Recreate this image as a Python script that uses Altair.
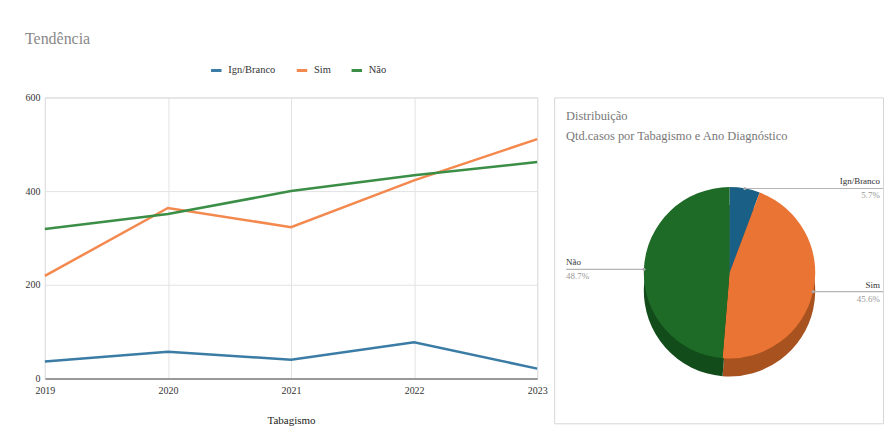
import altair as alt
import pandas as pd

# ---------------- data ----------------
years = [2019, 2020, 2021, 2022, 2023]
categories = ["Ign/Branco", "Sim", "Não"]
ign_branco = [36, 57, 40, 77, 21]
sim = [219, 364, 323, 423, 511]
nao = [319, 351, 400, 434, 462]
y_ticks = [0, 200, 400, 600]

# ---------------- styles ----------------
line_colors = ["#3a7ca5", "#f4894f", "#3b8e46"]
pie_colors = ["#1a5f85", "#e97434", "#1e6a27"]
shadow_colors = ["#12435f", "#a8521f", "#124c1a"]
FONT = "Liberation Serif"

rows = []
for i, (cat, vals) in enumerate(zip(categories, [ign_branco, sim, nao])):
    for yr, v in zip(years, vals):
        rows.append({"year": yr, "cat": cat, "idx": i, "value": v})
df = pd.DataFrame(rows)

# ---------------- left: trend lines ----------------
line = alt.Chart(df).mark_line(strokeWidth=2.5).encode(
    x=alt.X(
        "year:Q",
        scale=alt.Scale(domain=[2019, 2023], nice=False, zero=False),
        axis=alt.Axis(
            values=years, format="d", title="Tabagismo", labelFont=FONT,
            labelFontSize=10, labelColor="#333", titleFont=FONT, titleFontSize=11,
            titleFontWeight="normal", titleColor="#222", titlePadding=19,
            ticks=False, labelPadding=7, domainColor="#999", domainWidth=2,
            gridColor="#e2e2e2", labelOverlap=False, labelBound=False,
            labelFlush=False,
        ),
    ),
    y=alt.Y(
        "value:Q",
        scale=alt.Scale(domain=[0, 600], nice=False),
        axis=alt.Axis(
            values=y_ticks, title=None, labelFont=FONT, labelFontSize=10,
            labelColor="#333", ticks=False, domain=False, labelPadding=5,
            gridColor="#e2e2e2", labelFlush=False,
        ),
    ),
    color=alt.Color(
        "cat:N",
        scale=alt.Scale(domain=categories, range=line_colors),
        legend=alt.Legend(
            orient="none", legendX=165, legendY=-34, direction="horizontal",
            title=None, symbolType="stroke", symbolStrokeWidth=3, symbolSize=110,
            labelFont=FONT, labelFontSize=10.5, labelColor="#333",
            columnPadding=14, labelOffset=5,
        ),
    ),
    detail="cat:N",
).properties(
    width=494,
    height=282,
    title=alt.TitleParams(
        "Tendência", anchor="start", frame="bounds", font=FONT, fontSize=16,
        fontWeight="normal", color="#888", offset=17,
    ),
)

# ---------------- right: pie ----------------
CX, CY, R, DEPTH = 176, 176, 86, 18

base = alt.Chart(df).transform_aggregate(
    total="sum(value)", groupby=["cat", "idx"]
)

shadow = base.mark_arc(radius=R).encode(
    theta=alt.Theta("total:Q", stack=True),
    fill=alt.Fill("cat:N", scale=alt.Scale(domain=categories, range=shadow_colors), legend=None),
    order=alt.Order("idx:Q"),
    x=alt.value(CX),
    y=alt.value(CY + DEPTH),
)

top = base.mark_arc(radius=R).encode(
    theta=alt.Theta("total:Q", stack=True),
    color=alt.Color("cat:N", scale=alt.Scale(domain=categories, range=pie_colors), legend=None),
    order=alt.Order("idx:Q"),
    x=alt.value(CX),
    y=alt.value(CY),
)

lab = base.transform_joinaggregate(grand="sum(total)").transform_window(
    cum="sum(total)", sort=[alt.SortField("idx")], frame=[None, 0]
).transform_calculate(
    mid="(datum.cum - datum.total/2) / datum.grand * 2 * PI",
    px=f"{CX} + {R} * sin(datum.mid)",
    py=f"{CY} - {R} * cos(datum.mid)",
    lx="sin(datum.mid) > 0 ? 330 : 12",
    tx="sin(datum.mid) > 0 ? 327 : 12",
    right="sin(datum.mid) > 0",
    pct="format(datum.total / datum.grand * 100, '.1f') + '%'",
)

leader = lab.mark_rule(color="#b5b5b5", strokeWidth=1.2, clip=True).encode(
    x=alt.X("px:Q", scale=None),
    x2="lx:Q",
    y=alt.Y("py:Q", scale=None),
)
dots = lab.mark_circle(size=10, color="#aaaaaa", opacity=1).encode(
    x=alt.X("px:Q", scale=None),
    y=alt.Y("py:Q", scale=None),
)

def side_labels(is_right):
    al = "right" if is_right else "left"
    f = lab.transform_filter("datum.right" if is_right else "!datum.right")
    name = f.mark_text(font=FONT, fontSize=9, baseline="bottom", dy=-2, align=al,
                       color="#333").encode(
        x=alt.X("tx:Q", scale=None), y=alt.Y("py:Q", scale=None), text="cat:N")
    pct = f.mark_text(font=FONT, fontSize=9, baseline="top", dy=3, align=al,
                      color="#999").encode(
        x=alt.X("tx:Q", scale=None), y=alt.Y("py:Q", scale=None), text="pct:N")
    return [name, pct]

title_txt = alt.Chart(alt.Data(values=[{}])).mark_text(
    text="Distribuição\nQtd.casos por Tabagismo e Ano Diagnóstico",
    lineBreak="\n", align="left", baseline="top", font=FONT, fontSize=12.5,
    color="#777", lineHeight=20,
).encode(x=alt.value(12), y=alt.value(13))

pie = alt.layer(
    shadow, top, leader, dots, *side_labels(True), *side_labels(False), title_txt
).resolve_scale(color="independent", fill="independent").properties(width=330, height=327)

chart = alt.hconcat(line, pie, spacing=17, bounds="flush").resolve_scale(
    color="independent"
).properties(
    padding={"left": 16, "top": 21, "right": 0, "bottom": 0}
).configure(background="white", font=FONT).configure_view(stroke="#d6d6d6")

chart.save("out.html", embed_options={"renderer": "svg", "actions": False})
